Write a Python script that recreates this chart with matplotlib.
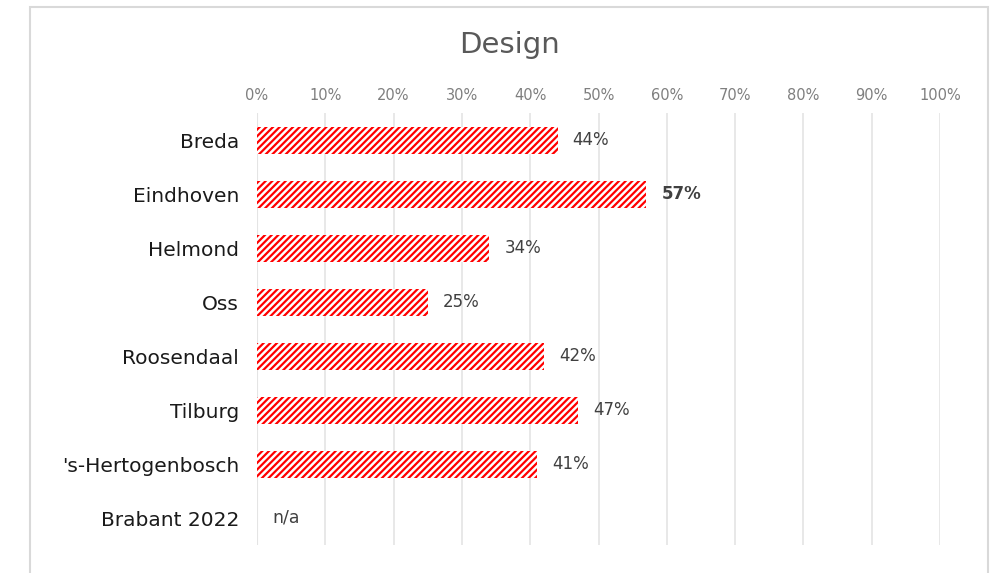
import matplotlib
matplotlib.use('Agg')
import matplotlib.pyplot as plt
from matplotlib.patches import Rectangle
import numpy as np

# data
cities = ['Breda', 'Eindhoven', 'Helmond', 'Oss', 'Roosendaal', 'Tilburg',
          "'s-Hertogenbosch", 'Brabant 2022']
values = [44, 57, 34, 25, 42, 47, 41, None]
ticks = [0, 10, 20, 30, 40, 50, 60, 70, 80, 90, 100]
highlight = 'Eindhoven'

plt.rcParams['font.family'] = ['DejaVu Sans']
plt.rcParams['hatch.linewidth'] = 1.6
plt.rcParams['hatch.color'] = '#ff0000'

fig = plt.figure(figsize=(10.01, 5.73), dpi=100)
fig.patches.append(Rectangle((30 / 1001, -0.1), 958 / 1001, 1.1 - 7 / 573,
                             transform=fig.transFigure, fill=False,
                             edgecolor='#d9d9d9', linewidth=1.5))
ax = fig.add_axes([257 / 1001, 28 / 573, 683 / 1001, 432 / 573])

y = np.arange(len(cities))
for i, (c, v) in enumerate(zip(cities, values)):
    if v is None:
        ax.text(2.3, i, 'n/a', va='center', ha='left', fontsize=12.5, color='#404040')
        continue
    ax.barh(i, v, height=0.5, color='white', edgecolor='#ff0000',
            hatch='/////', linewidth=0)
    bold = c == highlight
    ax.text(v + 2.2, i, f'{v}%', va='center', ha='left', fontsize=12,
            color='#404040', fontweight='bold' if bold else 'normal')

ax.set_xlim(0, 100)
ax.set_ylim(len(cities) - 0.5, -0.5)
ax.set_yticks(y)
ax.set_yticklabels(cities, fontsize=14.5, color='#1a1a1a')
ax.set_xticks(ticks)
ax.set_xticklabels([f'{t}%' for t in ticks], fontsize=10.5, color='#7f7f7f')
ax.xaxis.tick_top()
ax.tick_params(axis='both', length=0)
ax.tick_params(axis='x', pad=7)
ax.tick_params(axis='y', pad=13)
ax.grid(axis='x', color='#e6e6e6', linewidth=1.3)
ax.set_axisbelow(True)
for s in ax.spines.values():
    s.set_visible(False)
ax.axvline(0, color='#d9d9d9', linewidth=1.5, zorder=0)

fig.text(509 / 1001, 1 - 45 / 573, 'Design', ha='center', va='center',
         fontsize=21, color='#595959')

fig.savefig('out.png', dpi=100)
